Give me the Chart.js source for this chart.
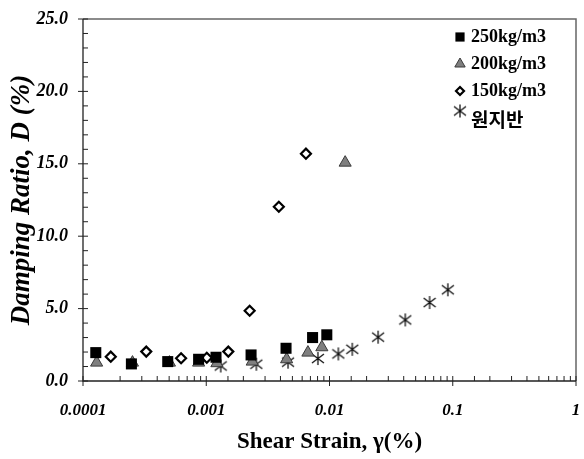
<!DOCTYPE html>
<html lang="ko">
<head>
    <meta charset="UTF-8">
    <title>Damping Ratio vs Shear Strain</title>
    <script src="https://cdn.jsdelivr.net/npm/chart.js@4.4.1/dist/chart.umd.min.js"></script>
    <style>
        html, body { margin: 0; padding: 0; background: #fff; }
        #wrap { width: 584px; height: 459px; }
    </style>
</head>
<body>
<div id="wrap"><canvas id="dampChart" width="584" height="459"></canvas></div>
<script>
    // data: shear strain (%) and damping ratio (%)
    const seriesNames = ['250kg/m3', '200kg/m3', '150kg/m3', '원지반'];

    const strain250 = [0.000127, 0.000247, 0.000487, 0.000867, 0.00120, 0.00231, 0.00444, 0.00729, 0.00951];
    const damp250   = [1.96, 1.18, 1.34, 1.50, 1.64, 1.80, 2.26, 3.00, 3.19];

    const strain200 = [0.000129, 0.000252, 0.000503, 0.000867, 0.00122, 0.00236, 0.00449, 0.00668, 0.00867, 0.0134];
    const damp200   = [1.27, 1.27, 1.27, 1.27, 1.23, 1.34, 1.50, 1.96, 2.33, 15.08];

    const strain150 = [0.000168, 0.000326, 0.000625, 0.00101, 0.00151, 0.00225, 0.00388, 0.00644];
    const damp150   = [1.68, 2.03, 1.57, 1.61, 2.03, 4.85, 12.03, 15.70];

    const strainSite = [0.00131, 0.00255, 0.00461, 0.00805, 0.0118, 0.0153, 0.0248, 0.0412, 0.0649, 0.0912];
    const dampSite   = [1.04, 1.16, 1.30, 1.55, 1.87, 2.19, 3.03, 4.22, 5.42, 6.30];

    const xDecades = [0.0001, 0.001, 0.01, 0.1, 1];
    const yLabels = [0, 5, 10, 15, 20, 25];

    function toPoints(xs, ys) {
        return xs.map((x, i) => ({ x: x, y: ys[i] }));
    }

    // six-armed asterisk marker
    function makeAsterisk(w, h, color) {
        const c = document.createElement('canvas');
        c.width = w; c.height = h;
        const g = c.getContext('2d');
        g.strokeStyle = color;
        g.lineWidth = 1.3;
        g.beginPath();
        g.moveTo(w / 2, 1); g.lineTo(w / 2, h - 1);
        g.moveTo(1, 3); g.lineTo(w - 1, h - 3);
        g.moveTo(w - 1, 3); g.lineTo(1, h - 3);
        g.stroke();
        return c;
    }
    const asterisk = makeAsterisk(14, 15, '#111');

    const serifBI = { family: '"Liberation Serif", "Times New Roman", serif', weight: 'bold', style: 'italic' };

    const styles = [
        { pointStyle: 'rect', radius: 7.8, bg: '#000', border: '#000', bw: 0 },
        { pointStyle: 'triangle', radius: 7, bg: '#7f7f7f', border: '#3a3a3a', bw: 1 },
        { pointStyle: 'rectRot', radius: 5, bg: '#fff', border: '#000', bw: 2.2 },
        { pointStyle: asterisk, radius: 7, bg: '#222', border: '#222', bw: 1 }
    ];

    const isDecade = v => xDecades.some(d => Math.abs(d - v) / d < 1e-6);

    // box, tick marks and legend drawn on the chart area
    const framePlugin = {
        id: 'frame',
        afterDraw(chart) {
            const ctx = chart.ctx;
            const a = chart.chartArea;
            const xs = chart.scales.x, ys = chart.scales.y;
            ctx.save();
            // top and right border
            ctx.strokeStyle = '#666';
            ctx.lineWidth = 1.5;
            ctx.beginPath();
            ctx.moveTo(a.left, a.top); ctx.lineTo(a.right, a.top); ctx.lineTo(a.right, a.bottom);
            ctx.stroke();
            // axes
            ctx.strokeStyle = '#222';
            ctx.lineWidth = 1.3;
            ctx.beginPath();
            ctx.moveTo(a.left, a.top); ctx.lineTo(a.left, a.bottom); ctx.lineTo(a.right, a.bottom);
            ctx.stroke();
            // tick marks
            ctx.lineWidth = 1;
            ctx.beginPath();
            xs.ticks.forEach(t => {
                const px = xs.getPixelForValue(t.value);
                ctx.moveTo(px, a.bottom - 5);
                ctx.lineTo(px, isDecade(t.value) ? a.bottom + 5 : a.bottom);
            });
            ys.ticks.forEach(t => {
                const py = ys.getPixelForValue(t.value);
                ctx.moveTo(t.value % 5 === 0 ? a.left - 5 : a.left, py);
                ctx.lineTo(a.left + 5, py);
            });
            ctx.stroke();

            // legend
            const lx = 460, rows = [37, 64, 91, 118];
            chart.data.datasets.forEach((ds, i) => {
                const s = styles[i];
                ctx.fillStyle = s.bg; ctx.strokeStyle = s.border; ctx.lineWidth = s.bw;
                const my = i === 3 ? rows[i] - 7 : rows[i];
                const r = i === 0 ? 6.5 : i === 1 ? 6 : i === 2 ? 4 : 7;
                Chart.helpers.drawPoint(ctx, { pointStyle: s.pointStyle, radius: r, borderWidth: s.bw }, lx, my);
                ctx.fillStyle = '#000';
                ctx.textBaseline = 'middle';
                ctx.textAlign = 'left';
                ctx.font = i === 3 ? 'bold 19px "Noto Sans CJK KR", sans-serif' : 'bold 18px "Liberation Serif", serif';
                ctx.fillText(ds.label, 471, rows[i] + (i === 3 ? 2 : 0));
            });
            ctx.restore();
        }
    };

    const ctx = document.getElementById('dampChart').getContext('2d');
    const xsArr = [strain250, strain200, strain150, strainSite];
    const ysArr = [damp250, damp200, damp150, dampSite];

    new Chart(ctx, {
        type: 'scatter',
        data: {
            datasets: seriesNames.map((name, i) => ({
                label: name,
                data: toPoints(xsArr[i], ysArr[i]),
                pointStyle: styles[i].pointStyle,
                pointRadius: styles[i].radius,
                pointHoverRadius: styles[i].radius,
                backgroundColor: styles[i].bg,
                borderColor: styles[i].border,
                borderWidth: styles[i].bw
            }))
        },
        options: {
            responsive: false,
            animation: false,
            layout: { padding: { left: 0, top: 19, right: 0, bottom: 0 } },
            plugins: { legend: { display: false }, tooltip: { enabled: false } },
            scales: {
                x: {
                    type: 'logarithmic',
                    min: 0.0001,
                    max: 1,
                    border: { display: false },
                    grid: { drawOnChartArea: false, drawTicks: false },
                    afterFit: s => { s.height = 78; s.paddingLeft = 0; s.paddingRight = 0; },
                    ticks: {
                        autoSkip: false,
                        maxRotation: 0,
                        padding: 19,
                        color: '#000',
                        font: Object.assign({ size: 17 }, serifBI),
                        callback: v => isDecade(v) ? String(v) : ''
                    },
                    title: {
                        display: true,
                        text: 'Shear Strain, γ(%)',
                        color: '#000',
                        padding: { top: 4, bottom: 3 },
                        font: { family: '"Liberation Serif", serif', weight: 'bold', size: 23 }
                    }
                },
                y: {
                    min: 0,
                    max: 25,
                    border: { display: false },
                    grid: { drawOnChartArea: false, drawTicks: false },
                    afterFit: s => { s.width = 83; s.paddingTop = 0; s.paddingBottom = 0; },
                    ticks: {
                        stepSize: 1,
                        autoSkip: false,
                        padding: 15,
                        color: '#000',
                        font: Object.assign({ size: 18 }, serifBI),
                        callback: v => yLabels.includes(v) ? v.toFixed(1) : ''
                    },
                    title: {
                        display: true,
                        text: 'Damping Ratio, D (%)',
                        color: '#000',
                        padding: { top: 6, bottom: 0 },
                        font: Object.assign({ size: 27 }, serifBI)
                    }
                }
            }
        },
        plugins: [framePlugin]
    });
</script>
</body>
</html>
